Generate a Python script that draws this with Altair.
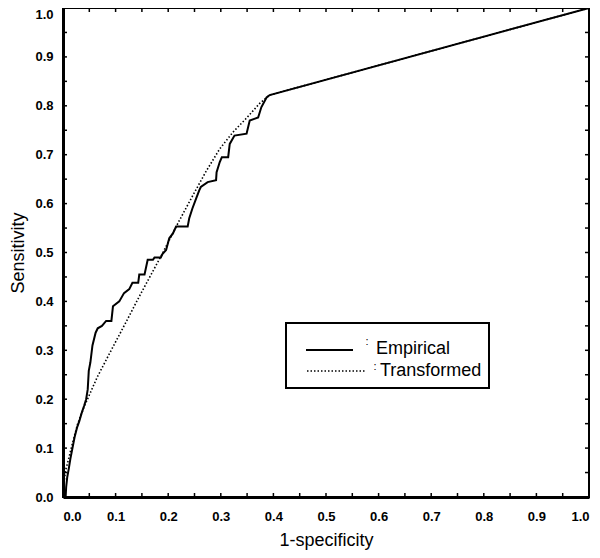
import altair as alt
import pandas as pd

# Empirical ROC (staircase)
emp_x = [0.0, 0.005, 0.006, 0.008, 0.011, 0.014, 0.018, 0.022, 0.027, 0.031, 0.035, 0.040,
         0.044, 0.047, 0.049, 0.052, 0.056, 0.062, 0.066, 0.074, 0.082, 0.092, 0.095, 0.107,
         0.116, 0.126, 0.132, 0.143, 0.145, 0.155, 0.161, 0.171, 0.174, 0.186, 0.189, 0.196,
         0.202, 0.209, 0.215, 0.237, 0.240, 0.246, 0.253, 0.259, 0.262, 0.275, 0.291, 0.292,
         0.298, 0.302, 0.314, 0.317, 0.326, 0.349, 0.355, 0.371, 0.377, 0.387, 0.393, 1.0]
emp_y = [0.0, 0.0, 0.020, 0.040, 0.058, 0.078, 0.100, 0.122, 0.143, 0.155, 0.170, 0.186,
         0.200, 0.220, 0.258, 0.275, 0.310, 0.336, 0.345, 0.350, 0.360, 0.360, 0.390, 0.400,
         0.417, 0.425, 0.438, 0.438, 0.455, 0.455, 0.485, 0.485, 0.490, 0.490, 0.497, 0.505,
         0.529, 0.539, 0.553, 0.553, 0.570, 0.590, 0.610, 0.627, 0.634, 0.644, 0.648, 0.664,
         0.685, 0.695, 0.695, 0.722, 0.739, 0.743, 0.770, 0.776, 0.797, 0.817, 0.822, 1.0]

# Transformed (smooth) ROC
tr_x = [0.0, 0.002, 0.005, 0.010, 0.018, 0.028, 0.040, 0.065, 0.094, 0.120, 0.145, 0.170,
        0.190, 0.221, 0.247, 0.272, 0.298, 0.323, 0.349, 0.374, 0.393, 1.0]
tr_y = [0.0, 0.030, 0.055, 0.075, 0.110, 0.150, 0.184, 0.245, 0.305, 0.358, 0.410, 0.460,
        0.500, 0.565, 0.617, 0.666, 0.712, 0.746, 0.775, 0.805, 0.822, 1.0]

tick_vals = [round(i * 0.05, 2) for i in range(21)]
label_vals = [round(i * 0.1, 1) for i in range(11)]

W, H = 526, 489

emp = pd.DataFrame({"x": emp_x, "y": emp_y, "i": range(len(emp_x))})
tr = pd.DataFrame({"x": tr_x, "y": tr_y, "i": range(len(tr_x))})
ticks = pd.DataFrame({"v": tick_vals})

xscale = alt.Scale(domain=[0, 1], nice=False, zero=False)
yscale = alt.Scale(domain=[0, 1], nice=False, zero=False)

font = "Liberation Sans"

x_axis = alt.Axis(
    title="1-specificity", values=label_vals, format=".1f", grid=False, ticks=False,
    domainColor="black", domainWidth=3, labelFont=font, labelFontWeight="bold",
    labelFontSize=13, labelColor="black", labelPadding=13,
    labelAlign=alt.expr("datum.value == 0 ? 'left' : (datum.value == 1 ? 'right' : 'center')"),
    titleFont=font, titleFontSize=18, titleFontWeight="normal", titleColor="black",
    titleY=43, titleBaseline="middle",
)
y_axis = alt.Axis(
    title="Sensitivity", values=label_vals, format=".1f", grid=False, ticks=False,
    domainColor="black", domainWidth=3, labelFont=font, labelFontWeight="bold",
    labelFontSize=13, labelColor="black", labelPadding=10,
    labelBaseline=alt.expr("datum.value == 1 ? 'top' : 'middle'"),
    titleFont=font, titleFontSize=18, titleFontWeight="normal", titleColor="black",
    titleX=-45, titleBaseline="middle", titleAngle=-90,
)

empirical = alt.Chart(emp).mark_line(color="black", strokeWidth=2, interpolate="linear").encode(
    x=alt.X("x:Q", scale=xscale, axis=x_axis),
    y=alt.Y("y:Q", scale=yscale, axis=y_axis),
    order="i:O",
)
transformed = alt.Chart(tr).mark_line(color="black", strokeWidth=1.6, strokeDash=[1.5, 2]).encode(
    x=alt.X("x:Q", scale=xscale),
    y=alt.Y("y:Q", scale=yscale),
    order="i:O",
)

tick_b = alt.Chart(ticks).mark_rule(color="black", strokeWidth=1.5).encode(
    x=alt.X("v:Q", scale=xscale), y=alt.value(H), y2=alt.value(H - 4))
tick_t = alt.Chart(ticks).mark_rule(color="black", strokeWidth=1.5).encode(
    x=alt.X("v:Q", scale=xscale), y=alt.value(0), y2=alt.value(4))
tick_l = alt.Chart(ticks).mark_rule(color="black", strokeWidth=1.5).encode(
    y=alt.Y("v:Q", scale=yscale), x=alt.value(0), x2=alt.value(4))
tick_r = alt.Chart(ticks).mark_rule(color="black", strokeWidth=1.5).encode(
    y=alt.Y("v:Q", scale=yscale), x=alt.value(W), x2=alt.value(W - 4))

# Legend (drawn manually)
leg_box = alt.Chart(pd.DataFrame({"a": [0]})).mark_rect(
    fill="white", stroke="black", strokeWidth=2).encode(
    x=alt.value(223), x2=alt.value(426), y=alt.value(315), y2=alt.value(380))
leg_solid = alt.Chart(pd.DataFrame({"a": [0]})).mark_rule(color="black", strokeWidth=2).encode(
    x=alt.value(243), x2=alt.value(290), y=alt.value(342))
leg_dot = alt.Chart(pd.DataFrame({"a": [0]})).mark_rule(
    color="black", strokeWidth=1.6, strokeDash=[1.5, 2]).encode(
    x=alt.value(244), x2=alt.value(302), y=alt.value(363))
leg_c1 = alt.Chart(pd.DataFrame({"t": [":"]})).mark_text(
    font=font, fontSize=11, align="center", baseline="middle", color="black").encode(
    text="t:N", x=alt.value(304), y=alt.value(334))
leg_c2 = alt.Chart(pd.DataFrame({"t": [":"]})).mark_text(
    font=font, fontSize=11, align="center", baseline="middle", color="black").encode(
    text="t:N", x=alt.value(312), y=alt.value(359))
leg_t1 = alt.Chart(pd.DataFrame({"t": ["Empirical"]})).mark_text(
    font=font, fontSize=18, align="left", baseline="alphabetic", color="black").encode(
    text="t:N", x=alt.value(313), y=alt.value(346))
leg_t2 = alt.Chart(pd.DataFrame({"t": ["Transformed"]})).mark_text(
    font=font, fontSize=18, align="left", baseline="alphabetic", color="black").encode(
    text="t:N", x=alt.value(317), y=alt.value(368))

chart = alt.layer(
    transformed, empirical, tick_b, tick_t, tick_l, tick_r,
    leg_box, leg_solid, leg_dot, leg_c1, leg_c2, leg_t1, leg_t2,
).properties(
    width=W, height=H,
    autosize=alt.AutoSizeParams(type="none"),
    padding={"left": 55, "top": 0, "right": 3, "bottom": 53},
    background="white",
).configure_view(
    stroke="black", strokeWidth=2,
)

chart.save("out.html", embed_options={"renderer": "svg", "actions": False})
